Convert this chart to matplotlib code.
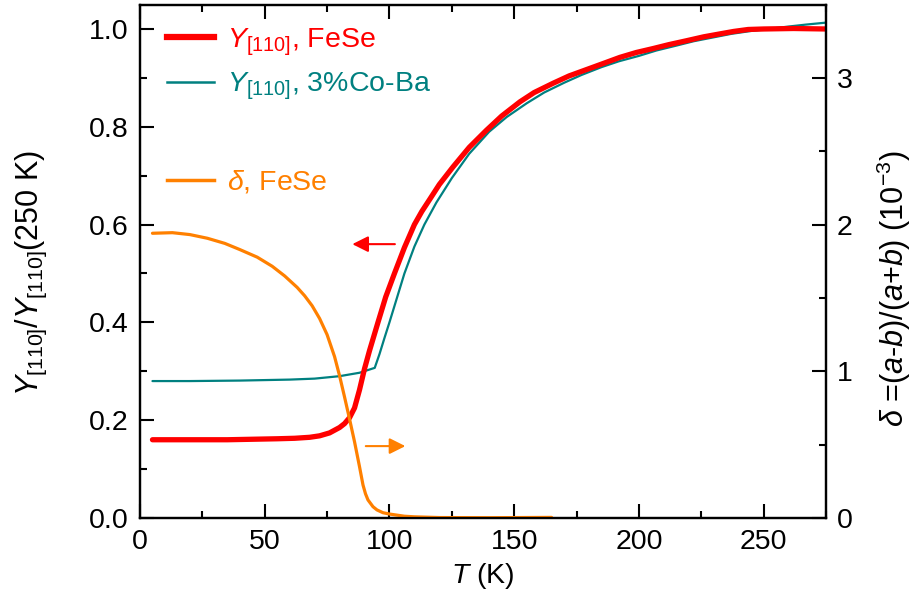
import numpy as np
import matplotlib
matplotlib.use("Agg")
import matplotlib.pyplot as plt
from matplotlib.ticker import MultipleLocator, FormatStrFormatter
from matplotlib.lines import Line2D

plt.rcParams['font.family'] = ['Liberation Sans', 'DejaVu Sans']
plt.rcParams['mathtext.fontset'] = 'custom'
plt.rcParams['mathtext.rm'] = 'Liberation Sans'
plt.rcParams['mathtext.it'] = 'Liberation Sans:italic'
plt.rcParams['mathtext.bf'] = 'Liberation Sans:bold'

# Y_[110] normalised, FeSe (left axis)
t_fese = [5, 15, 25, 35, 45, 55, 62, 68, 72, 76, 80, 82, 84, 86, 88, 90, 92, 95.4,
          98.5, 102, 106, 110, 113, 116.2, 120, 125.5, 132, 138.9, 145, 152.3, 158,
          165.6, 172, 179, 186, 192.4, 199, 205.7, 212, 219.1, 226, 232.5, 238,
          243.8, 250, 262, 275]
y_fese = [0.160, 0.160, 0.160, 0.160, 0.161, 0.162, 0.163, 0.165, 0.168, 0.174, 0.185,
          0.193, 0.205, 0.225, 0.262, 0.305, 0.342, 0.400, 0.452, 0.500, 0.553, 0.600,
          0.627, 0.652, 0.682, 0.718, 0.758, 0.793, 0.822, 0.851, 0.870, 0.889, 0.904,
          0.917, 0.930, 0.942, 0.952, 0.960, 0.968, 0.976, 0.984, 0.990, 0.995, 0.999,
          1.000, 1.001, 1.000]

# Y_[110] normalised, 3% Co-Ba (left axis)
t_coba = [5, 20, 40, 60, 70, 80, 88, 94.1, 96, 98, 100, 103, 106, 110, 114, 118.8,
          125, 132, 140, 147, 155, 162, 170, 177, 185, 192, 200, 207, 215, 222, 230,
          237, 245, 252, 260, 267, 275]
y_coba = [0.280, 0.280, 0.281, 0.283, 0.285, 0.290, 0.297, 0.307, 0.335, 0.368, 0.400,
          0.450, 0.500, 0.555, 0.600, 0.645, 0.695, 0.745, 0.790, 0.820, 0.848, 0.870,
          0.890, 0.906, 0.922, 0.934, 0.945, 0.956, 0.966, 0.975, 0.983, 0.990, 0.996,
          1.000, 1.005, 1.009, 1.013]

# delta = (a-b)/(a+b), FeSe (right axis, 1e-3)
t_delta = [5, 13, 20, 27, 34, 40, 47, 53, 58, 63, 66, 69, 72, 75, 78, 80, 82, 84,
           86, 88, 89.4, 90.4, 91.4, 93.4, 95, 97.4, 100, 102.8, 106, 110,
           120, 140, 165]
d_delta = [1.941, 1.945, 1.932, 1.907, 1.872, 1.830, 1.778, 1.716, 1.650, 1.572, 1.515,
           1.447, 1.360, 1.250, 1.100, 0.970, 0.825, 0.675, 0.520, 0.350, 0.225, 0.165,
           0.123, 0.077, 0.055, 0.036, 0.027, 0.020, 0.012, 0.008, 0.003, 0.002, 0.004]

RED = '#ff0000'
TEAL = '#008080'
ORANGE = '#ff8000'
FS = 20.5
LFS = 22

fig = plt.figure(figsize=(9.15, 6.13), dpi=100)
ax = fig.add_axes([0.153, 0.155, 0.7497, 0.8368])
ax2 = ax.twinx()

ax.plot(t_coba, y_coba, color=TEAL, lw=1.6, solid_capstyle='round')
ax.plot(t_fese, y_fese, color=RED, lw=3.8, solid_capstyle='round', solid_joinstyle='round')
ax2.plot(t_delta, d_delta, color=ORANGE, lw=2.3, solid_capstyle='round', solid_joinstyle='round')

ax.set_xlim(0, 275)
ax.set_ylim(0, 1.049)
ax2.set_ylim(0, 3.497)

ax.xaxis.set_major_locator(MultipleLocator(50))
ax.xaxis.set_minor_locator(MultipleLocator(25))
ax.yaxis.set_major_locator(MultipleLocator(0.2))
ax.yaxis.set_minor_locator(MultipleLocator(0.1))
ax.yaxis.set_major_formatter(FormatStrFormatter('%.1f'))
ax2.yaxis.set_major_locator(MultipleLocator(1))
ax2.yaxis.set_minor_locator(MultipleLocator(0.5))

ax.tick_params(axis='x', which='both', direction='in', top=True, labelsize=FS, pad=8, width=1.5)
ax.tick_params(axis='y', which='both', direction='in', right=False, labelsize=FS, pad=8, width=1.5)
ax.tick_params(which='major', length=10)
ax.tick_params(which='minor', length=5)
ax2.tick_params(axis='y', which='both', direction='in', labelsize=FS, pad=8, width=1.5)
ax2.tick_params(which='major', length=10)
ax2.tick_params(which='minor', length=5)
for a in (ax, ax2):
    for sp in a.spines.values():
        sp.set_linewidth(1.6)

ax.set_xlabel(r'$T$ (K)', fontsize=FS, labelpad=4)
ax.set_ylabel(r'$Y_{[110]}/Y_{[110]}$(250 K)', fontsize=LFS, labelpad=29)
ax2.set_ylabel(r'$\delta$ =($a$-$b$)/($a$+$b$) (10$^{-3}$)', fontsize=LFS, labelpad=16)
ax.yaxis.label.set_y(0.478)
ax2.yaxis.label.set_y(0.446)

# arrows pointing to the relevant axis
ax.annotate('', xy=(84.0, 0.56), xytext=(103.3, 0.56),
            arrowprops=dict(arrowstyle='-|>', color=RED, lw=1.5, mutation_scale=24))
ax.annotate('', xy=(107.5, 0.147), xytext=(89.4, 0.147),
            arrowprops=dict(arrowstyle='-|>', color=ORANGE, lw=1.5, mutation_scale=24))

h1 = [Line2D([], [], color=RED, lw=4.5), Line2D([], [], color=TEAL, lw=1.8)]
leg1 = ax2.legend(h1, [r'$Y_{[110]}$, FeSe', r'$Y_{[110]}$, 3%Co-Ba'],
                  loc='upper left', bbox_to_anchor=(0.039, 0.958), frameon=False,
                  fontsize=FS, handlelength=1.65, handletextpad=0.45, labelspacing=0.45,
                  borderpad=0, borderaxespad=0, labelcolor='linecolor')
ax2.add_artist(leg1)
h2 = [Line2D([], [], color=ORANGE, lw=2.5)]
ax2.legend(h2, [r'$\delta$, FeSe'], loc='upper left', bbox_to_anchor=(0.039, 0.681),
           frameon=False, fontsize=FS, handlelength=1.65, handletextpad=0.45,
           borderpad=0, borderaxespad=0, labelcolor='linecolor')

fig.savefig('out.png', dpi=100)
